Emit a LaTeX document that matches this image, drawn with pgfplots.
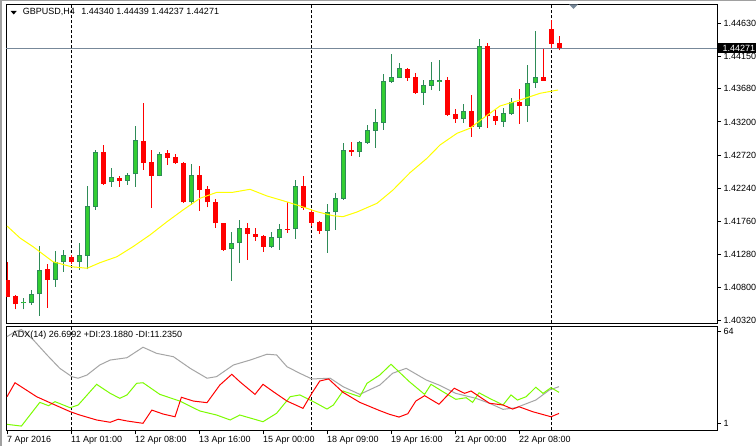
\documentclass[border=0pt]{standalone}
\usepackage{fontspec}
\setmainfont{Liberation Sans}
\usepackage{pgfplots}
\pgfplotsset{compat=1.18}
\usepackage{pgfplotstable}
\definecolor{upfill}{RGB}{50,205,50}
\definecolor{upline}{RGB}{46,139,87}
\definecolor{dnred}{RGB}{255,0,0}
\definecolor{maY}{RGB}{255,255,0}
\definecolor{adxgray}{RGB}{165,165,165}
\definecolor{pdigreen}{RGB}{124,252,0}
\definecolor{bidline}{RGB}{119,136,153}
\definecolor{framegray}{RGB}{160,160,160}

% bullish candles: bar index, open, high, low, close
\pgfplotstableread{
j o h l c
2 1.40570 1.40643 1.40483 1.40589
3 1.40570 1.40763 1.40546 1.40701
4 1.40701 1.41401 1.40390 1.41053
6 1.40912 1.41329 1.40811 1.41165
7 1.41165 1.41343 1.41028 1.41266
9 1.41173 1.41440 1.41053 1.41266
10 1.41260 1.42271 1.41063 1.41981
11 1.41971 1.42793 1.41923 1.42760
13 1.42325 1.42532 1.42261 1.42397
15 1.42348 1.42464 1.42290 1.42431
16 1.42441 1.43141 1.42261 1.42938
19 1.42420 1.42768 1.42409 1.42735
23 1.42035 1.42590 1.41996 1.42431
28 1.41353 1.41600 1.40898 1.41440
29 1.41440 1.41774 1.41159 1.41658
33 1.41391 1.41600 1.41376 1.41527
34 1.41521 1.41720 1.41343 1.41643
36 1.41643 1.42358 1.41503 1.42271
40 1.41623 1.42010 1.41304 1.41894
41 1.41890 1.42174 1.41633 1.42093
42 1.42083 1.42899 1.42068 1.42793
44 1.42768 1.42928 1.42696 1.42913
45 1.42899 1.43156 1.42887 1.43083
46 1.43073 1.43388 1.42826 1.43195
47 1.43189 1.43895 1.43083 1.43794
48 1.43783 1.44185 1.43769 1.43847
49 1.43841 1.44059 1.43837 1.43978
52 1.43624 1.43808 1.43446 1.43736
53 1.43725 1.44073 1.43663 1.43808
54 1.43783 1.44098 1.43653 1.43804
57 1.43238 1.43460 1.43189 1.43359
59 1.43131 1.44403 1.43098 1.44301
62 1.43203 1.43398 1.43131 1.43325
63 1.43311 1.43543 1.43301 1.43485
65 1.43435 1.44026 1.43203 1.43760
66 1.43760 1.44519 1.43696 1.43852
}\upcandles

% bearish candles: bar index, open, high, low, close
\pgfplotstableread{
j o h l c
0 1.40908 1.41173 1.40662 1.40666
1 1.40676 1.40691 1.40483 1.40556
5 1.41068 1.41140 1.40506 1.40908
8 1.41242 1.41271 1.41140 1.41173
12 1.42760 1.42866 1.42290 1.42304
14 1.42391 1.42416 1.42261 1.42348
17 1.42924 1.43475 1.42503 1.42609
18 1.42619 1.42793 1.41956 1.42420
20 1.42745 1.42793 1.42576 1.42681
21 1.42696 1.42735 1.42590 1.42600
22 1.42600 1.42612 1.42025 1.42035
24 1.42431 1.42561 1.41909 1.42213
25 1.42223 1.42271 1.41962 1.42035
26 1.42035 1.42078 1.41666 1.41730
27 1.41730 1.41734 1.41329 1.41343
30 1.41658 1.41730 1.41198 1.41571
31 1.41575 1.41658 1.41478 1.41536
32 1.41546 1.41561 1.41318 1.41391
35 1.41648 1.42043 1.41594 1.41636
37 1.42271 1.42416 1.41923 1.41956
38 1.41894 1.41923 1.41691 1.41739
39 1.41749 1.41764 1.41575 1.41623
43 1.42793 1.42913 1.42706 1.42768
50 1.43967 1.43975 1.43794 1.43841
51 1.43847 1.43905 1.43605 1.43624
55 1.43808 1.43852 1.43286 1.43301
56 1.43311 1.43388 1.43189 1.43238
58 1.43359 1.43591 1.42986 1.43131
60 1.44301 1.44349 1.43116 1.43290
61 1.43286 1.43373 1.43156 1.43218
64 1.43485 1.43673 1.43170 1.43435
67 1.43852 1.44258 1.43794 1.43798
68 1.44548 1.44678 1.44276 1.44334
69 1.44340 1.44439 1.44237 1.44271
}\dncandles

\begin{document}
\fontsize{9bp}{10.8bp}\selectfont
\begin{tikzpicture}[x=1bp,y=1bp]
\path[use as bounding box, fill=white] (0,0) rectangle (756,446);
\fill[framegray] (0,0) rectangle (2,446);
\fill[framegray] (0,445) rectangle (756,446);

% ---------------- price panel ----------------
\begin{axis}[
  at={(6.2bp,122.7bp)}, anchor=south west, scale only axis,
  width=710.8bp, height=319bp,
  xmin=-0.1, xmax=88.75, ymin=1.40280, ymax=1.44906,
  axis line style={black, line width=1bp},
  xtick=\empty,
  ytick={1.40320,1.40800,1.41280,1.41760,1.42240,1.42720,1.43200,1.43680,1.44150,1.44630},
  yticklabels={1.40320,1.40800,1.41280,1.41760,1.42240,1.42720,1.43200,1.43680,1.44150,1.44630},
  ytick pos=right, yticklabel pos=right,
  tick align=outside, major tick length=4bp,
  tick style={black, line width=1bp},
  yticklabel style={anchor=west, inner sep=0pt, xshift=2.5bp, font=\fontsize{9bp}{10bp}\selectfont},
  extra y ticks={1.44271}, extra y tick labels={1.44271},
  extra y tick style={yticklabel style={fill=black, text=white, inner xsep=5bp, inner ysep=1.8bp, xshift=-6bp}},
]
% week separators
\addplot[black, line width=1bp, dash pattern=on 3bp off 2bp] coordinates {(8,1.40280) (8,1.44906)};
\addplot[black, line width=1bp, dash pattern=on 3bp off 2bp] coordinates {(38,1.40280) (38,1.44906)};
\addplot[black, line width=1bp, dash pattern=on 3bp off 2bp] coordinates {(68,1.40280) (68,1.44906)};
% bid line
\addplot[bidline, line width=1bp] coordinates {(-0.1,1.44271) (88.75,1.44271)};
% wicks
\addplot[upline, line width=1bp, quiver={u=0, v=\thisrow{h}-\thisrow{l}}] table[x=j, y=l] {\upcandles};
\addplot[dnred, line width=1bp, quiver={u=0, v=\thisrow{h}-\thisrow{l}}] table[x=j, y=l] {\dncandles};
% bodies
\addplot[upline, line width=5bp, quiver={u=0, v=\thisrow{c}-\thisrow{o}}] table[x=j, y=o] {\upcandles};
\addplot[upfill, line width=3bp, quiver={u=0, v=\thisrow{c}-\thisrow{o},
  every arrow/.append style={shorten <=1bp, shorten >=1bp}}] table[x=j, y=o] {\upcandles};
\addplot[dnred, line width=5bp, quiver={u=0, v=\thisrow{o}-\thisrow{c}}] table[x=j, y=c] {\dncandles};
% moving average
\addplot[maY, line width=1bp] coordinates {
(0,1.41691) (1.625,1.41517) (3.25,1.41391) (5.75,1.41173) (8,1.41101) (10,1.41078)
(11.625,1.41159) (13.75,1.41246) (15.75,1.41391) (17.875,1.41561) (20,1.41753)
(22,1.41923) (24.125,1.42093) (26.25,1.42180) (28.25,1.42180) (30.375,1.42223)
(32.5,1.42126) (34.5,1.42058) (36.625,1.41981) (38.75,1.41898) (40.75,1.41840)
(42,1.41826) (43.75,1.41894) (46.25,1.42020) (48.25,1.42213) (50.375,1.42464)
(52.5,1.42673) (54.125,1.42866) (56.25,1.43035) (57.875,1.43108) (59.5,1.43253)
(61.625,1.43431) (64.125,1.43518) (66.625,1.43615) (68.875,1.43663)};
\end{axis}

% ---------------- ADX panel ----------------
\begin{axis}[
  at={(6.2bp,15.7bp)}, anchor=south west, scale only axis,
  width=710.8bp, height=104bp,
  xmin=-0.1, xmax=88.75, ymin=-3.8, ymax=67.7,
  axis line style={black, line width=1bp},
  xtick={0,8,16,24,32,40,48,56,64},
  xticklabels={7 Apr 2016,11 Apr 01:00,12 Apr 08:00,13 Apr 16:00,15 Apr 00:00,18 Apr 09:00,19 Apr 16:00,21 Apr 00:00,22 Apr 08:00},
  ytick={1,64}, yticklabels={1,64},
  xtick pos=left, ytick pos=right, yticklabel pos=right,
  tick align=outside, major tick length=4bp,
  tick style={black, line width=1bp},
  yticklabel style={anchor=west, inner sep=0pt, xshift=2.5bp, font=\fontsize{9bp}{10bp}\selectfont},
  xticklabel style={anchor=north west, inner sep=0pt, yshift=-1.5bp, font=\fontsize{9bp}{10bp}\selectfont},
]
\addplot[black, line width=1bp, dash pattern=on 3bp off 2bp] coordinates {(8,-3.8) (8,67.7)};
\addplot[black, line width=1bp, dash pattern=on 3bp off 2bp] coordinates {(38,-3.8) (38,67.7)};
\addplot[black, line width=1bp, dash pattern=on 3bp off 2bp] coordinates {(68,-3.8) (68,67.7)};
% ADX
\addplot[adxgray, line width=1bp] coordinates {
(0,60.6) (1.0,64.0) (1.8,65.5) (3.3,58.3) (5.0,48.0) (6.6,38.8) (8.1,33.1) (8.9,32.0)
(10.0,34.2) (11.6,41.1) (12.9,44.5) (15.0,46.1) (17.0,53.3) (18.7,49.1) (20.8,46.8)
(22.9,38.8) (25.0,32.0) (26.2,33.1) (28.3,41.1) (30.4,44.5) (32.5,48.5) (33.7,48.0)
(35.0,39.9) (36.6,35.4) (38.1,31.5) (40.4,32.0) (42.0,26.2) (44.1,20.9) (46.6,27.3)
(48.2,35.4) (49.9,38.8) (52.4,30.8) (54.0,27.3) (56.1,21.6) (58.6,18.2) (60.3,14.8)
(62.0,10.6) (63.6,11.7) (66.1,17.0) (67.8,23.9) (69.0,26.2)};
% +DI
\addplot[pdigreen, line width=1bp] coordinates {
(0,0.3) (1.8,-0.9) (4.1,15.4) (5.2,13.1) (6.0,15.9) (7.9,11.7) (8.9,13.6) (11.2,27.8)
(12.9,21.6) (14.1,18.2) (15.0,20.5) (16.2,28.5) (17.0,28.9) (19.1,20.9) (21.6,16.3)
(24.1,9.5) (26.2,6.7) (27.9,3.3) (29.1,6.7) (32.0,2.1) (33.7,7.9) (35.4,19.3) (36.6,20.5)
(38.3,15.9) (40.0,10.8) (40.8,13.6) (42.0,23.2) (44.1,19.3) (45.0,28.5) (46.6,34.2)
(48.0,41.6) (50.3,29.6) (52.2,20.9) (53.0,27.8) (54.5,22.7) (56.1,17.5) (57.4,18.6)
(58.2,15.4) (59.0,22.0) (60.3,18.2) (62.0,13.6) (63.0,20.5) (63.8,17.0) (64.9,19.3)
(66.1,25.8) (67.0,21.6) (68.0,25.5) (69.0,22.3)};
% -DI
\addplot[dnred, line width=1bp] coordinates {
(0,19.3) (1.0,28.9) (3.7,19.3) (5.8,14.1) (7.9,9.0) (9.1,6.7) (11.2,3.3) (12.9,1.7)
(13.9,3.8) (15.0,2.6) (17.0,1.0) (18.1,10.1) (19.5,7.4) (21.0,5.5) (21.8,18.9) (23.3,16.3)
(25.0,15.2) (26.6,27.3) (28.1,34.7) (29.1,29.6) (31.0,20.9) (32.0,27.8) (33.3,22.7)
(35.0,16.3) (37.0,11.3) (38.1,21.6) (39.1,30.1) (40.2,31.5) (42.0,22.3) (44.1,15.4)
(46.6,9.7) (47.8,7.2) (49.0,5.3) (50.1,7.6) (51.1,16.3) (52.2,20.0) (54.0,14.1)
(55.9,25.1) (57.2,21.6) (58.0,23.2) (60.3,14.8) (62.0,13.6) (63.2,10.8) (64.0,12.4)
(65.7,9.0) (68.0,5.5) (69.0,7.8)};
\node[anchor=north west, inner sep=0pt, xshift=5.5bp, yshift=-4.5bp] at (rel axis cs:0,1)
  {ADX(14) 26.6992 +DI:23.1880 -DI:11.2350};
\end{axis}

% header text and chart-shift marker
\fill[black] (10.7,435) -- (16.7,435) -- (13.7,431.5) -- cycle;
\node[anchor=base west, inner sep=0pt] at (22.7,431) {GBPUSD,H4\hspace{4bp} 1.44340 1.44439 1.44237 1.44271};
\fill[bidline] (569,441.7) -- (578,441.7) -- (573.5,437) -- cycle;
\end{tikzpicture}
\end{document}
